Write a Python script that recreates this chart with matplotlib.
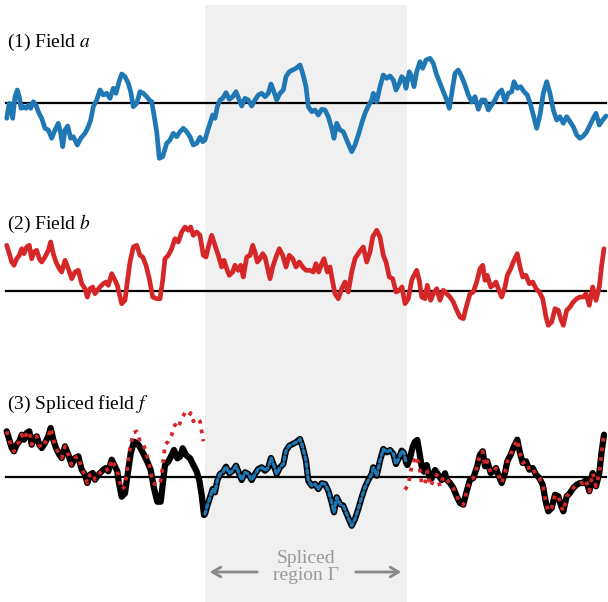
import numpy as np
import matplotlib
matplotlib.use("Agg")
import matplotlib.pyplot as plt
from matplotlib.patches import Rectangle

plt.rcParams["font.family"] = ["Liberation Serif", "DejaVu Serif"]
plt.rcParams["mathtext.fontset"] = "stix"

# field a (sample position, value)
a_x = np.array([
    6.7, 9.3, 11, 12.7, 15, 17.3, 19.3, 21, 23.3, 26, 28.3, 30.7, 33.3, 36, 38.3,
    41.7, 45, 48.3, 51.7, 55, 58.3, 60.7, 62.7, 65, 67.7, 70.7, 73.3, 77.3, 80.7,
    85, 88.3, 90.7, 93.3, 96.7, 100, 103.3, 106.7, 110, 113.3, 116, 119, 121.7,
    125, 128.3, 130.7, 133.3, 136.7, 140, 143.3, 146.7, 149.3, 151.7, 154.3,
    156.7, 159.3, 162.7, 166.7, 170, 173.3, 176.7, 180, 183.3, 186.7, 190, 193.3,
    196.7, 200, 202.7, 205, 207.3, 210, 212.7, 215, 217.3, 220, 222.7, 226,
    229.3, 232.7, 236, 239.3, 241.7, 245, 248.3, 251.7, 255, 258.3, 261.7, 265,
    268.3, 271, 273.3, 276.7, 280, 283.3, 286, 289.3, 292.7, 296, 300, 302.7,
    306, 308.3, 311.7, 315, 318.3, 321.7, 325, 328.3, 331.7, 334, 336.7, 340,
    343.3, 346.7, 351.7, 355, 358.3, 361.7, 365, 368.3, 371.7, 373.3, 376.7, 380,
    383.3, 386.7, 390, 393.3, 396, 399.3, 401.7, 404, 406, 409.3, 411.7, 414,
    416.7, 420, 422.7, 426, 430, 433.3, 436.7, 440, 443.3, 446.7, 449.3, 451.7,
    455, 458.3, 461.7, 465, 468.3, 471.7, 475, 478.3, 481.7, 485, 488.3, 491.7,
    495, 498.3, 501.7, 505, 508.3, 511.7, 514, 517.3, 520.7, 524, 527.3, 530.7,
    533.3, 536.7, 540, 543.3, 546.7, 550, 553.3, 556.7, 560, 563.3, 566.7, 570,
    573.3, 576.7, 580, 583.3, 586.7, 590, 593.3, 596, 599.3, 602.7, 606,
])
a_y = np.array([
    -15.3, -0.3, -3.7, -15.3, 6.3, 13, 6.3, -5.3, -3.7, -5.3, -2, -5.3, 1.3, -2,
    -8.7, -15.3, -25.3, -27, -35.3, -27, -20.3, -30.3, -43.7, -27, -23, -35.3,
    -33.7, -42, -35.3, -30.3, -23.7, -17, -3.7, 3, 13, 8, 9.7, 4.7, 14.7, 9.7,
    21.3, 29, 26.3, 19.7, 11.3, -3.7, -0.3, 11.3, 9.7, 6.3, 3, 1.3, -13.7, -28.7,
    -55.3, -53.7, -40.3, -37, -30.3, -33.7, -28.7, -25.3, -28.7, -33.7, -42,
    -40.3, -34.3, -38.7, -37, -28.7, -20.3, -12, -15.3, -3.7, 3, 4.7, 10.3, 3.7,
    6.3, 11.3, 3, -3, 4.7, 3, -3, 3, 8, 9.7, 6.3, 9.7, 19, 13, 3, 9.7, 13, 26.3,
    31.3, 33, 34.7, 38, 29.7, 16.3, -3.7, -8.7, -7, -12, -6.3, -7, -13.7, -25.3,
    -35.3, -20.3, -27, -28.7, -37, -48.7, -42, -32, -20.3, -10.3, -3, 3, 9.7,
    1.3, 16.3, 28, 24.7, 27, 23, 13, 19.7, 26.3, 24, 14.7, 31.3, 26.3, 16.3,
    31.3, 41.3, 34.7, 43, 44.7, 39.7, 28, 19.7, 11.3, 3, -5.3, 9.7, 29.7, 33,
    26.3, 18, 8, 1, 6.3, -6.3, 3, 3, -7, -2, 3, 9.7, 13, 1.3, 9.7, 11.3, 21.3,
    14.7, 16.3, 11.3, 8, -2, -12, -25.3, -12, 9.7, 21.3, 9.7, -7, -17, -13.7,
    -20.3, -13.7, -18.7, -23.7, -32, -35.3, -33, -28.7, -22, -15.3, -10.3, -22,
    -17, -13,
])

# field b
b_x = np.array([
    6.7, 9.3, 11.7, 14, 16.7, 19.3, 21.7, 24, 26.7, 29.3, 31.7, 34, 36.7, 39.3,
    41.7, 45, 48.3, 50.7, 53.3, 56, 59.3, 61.7, 65, 68.3, 71.7, 75, 78.3, 81.7,
    85, 87.3, 90, 92.7, 95, 97.3, 100, 103.3, 106, 108.3, 111.7, 115, 117.3,
    119.3, 121.7, 125, 127.3, 130, 133.3, 136.7, 140, 142.7, 146, 149.3, 152.7,
    156.7, 160, 162.7, 165, 168.3, 171.7, 175, 178.3, 181.7, 185, 188.3, 190.7,
    193.3, 196.7, 200, 203.3, 206, 208.3, 211.7, 215, 218.3, 221.7, 224, 226.7,
    229.3, 232.7, 235, 238.3, 240.7, 243.3, 246.7, 250, 252.7, 255, 257.3, 260,
    262.7, 265, 267.7, 270, 272.7, 276, 279.3, 282.7, 286, 289.3, 292.7, 296,
    299.3, 302.7, 306, 310, 313.3, 316, 318.7, 321.7, 324, 327.3, 330, 332.7,
    335, 338.3, 341.7, 345, 348.3, 351.7, 355, 359.3, 363.3, 366.7, 370, 372.7,
    376.7, 380, 383.3, 386, 389.3, 392.7, 396, 399.3, 402, 405, 408.3, 411.7,
    414, 416.7, 419.3, 421.7, 425, 427.3, 430.7, 433.3, 436.7, 440, 443.3,
    446.7, 450, 453.3, 456.7, 460, 463.3, 466.7, 470, 473.3, 476.7, 480, 482.7,
    485, 487.3, 490.7, 493.3, 496, 498.3, 501.7, 505, 507.3, 510.7, 513.3, 517.3,
    520, 522.7, 526, 529.3, 532.7, 536, 539.3, 542.7, 546, 548.3, 551.7, 555,
    558.3, 560.7, 563.3, 566.7, 570, 573.3, 576.7, 580, 583.3, 586, 589.3, 592.7,
    596, 599.3, 601.7, 604,
])
b_y = np.array([
    45.7, 37.3, 29, 25.7, 32.3, 35.7, 42.3, 37.3, 44, 45.7, 32.3, 39, 40.7, 32.3,
    29, 34, 40.7, 49, 37.3, 29, 22.3, 19, 30.7, 22.3, 12.3, 19, 20.7, 7.3, 2.3,
    -6, 2.3, 4, -2.7, 0.7, 4, 7.3, 9, 5.7, 17.3, 10.7, 5.7, -2.7, -12.7, -9.3, 9,
    29, 44, 45.7, 35.7, 34, 25.7, 12.3, -6, -7.7, -7.7, 10.7, 32.3, 35.7, 42.3,
    52.3, 49, 59, 64, 60.7, 64, 55.7, 59, 55.7, 35.7, 34, 44, 55.7, 45.7, 35.7,
    24, 30.7, 22.3, 15.7, 19, 25.7, 20.7, 25.7, 14, 34, 35.7, 45.7, 39, 29, 32.3,
    37.3, 34, 22.3, 12.3, 24, 34, 42.3, 35.7, 24, 35.7, 32.3, 24, 29, 24, 20.7,
    20.7, 19, 27.3, 19, 27.3, 32.3, 19, 24, 9, -2.7, -7.7, 2.3, 9, -1, 19, 32.3,
    39, 44, 29, 39, 54, 60.7, 54, 35.7, 29, 14, 12.3, -1, 0.7, 4, -12.7, -7.7,
    10.7, 15.7, 20.7, 10.7, -6, -7.7, 5.7, -9.3, -2.7, 2.3, -9.3, 0.7, -2.7, -6,
    -11, -19.3, -26, -27.7, -14.3, -2.7, -1, 9, 22.3, 25.7, 10.7, 15.7, 4, 5.7,
    9, 2.3, -6, 4, 15.7, 22.3, 29, 37.3, 24, 14, 15.7, 7.3, 9, 2.3, -1, -7.7,
    -26, -34.3, -31, -17.7, -19.3, -27.7, -34.3, -19.3, -16, -11, -7.7, -6, -6,
    -2.7, -14.3, 4, -9.3, 4, 25.7, 42.3,
])

# spliced field f where it follows neither a nor b
f_left_x = np.array([
    118.7, 121.7, 125, 127.3, 130.7, 134, 137.3, 140.7, 144, 147.3, 150.7, 154,
    157.3, 160.7, 162.7, 165, 168.3, 171.7, 174, 177.3, 180, 182.7, 186, 190,
    193.3, 196.7, 199.3, 201.7, 204,
])
f_left_y = np.array([
    -4.7, -19.7, -16.3, 0.3, 23.7, 35.3, 33.7, 28.7, 22, 15.3, 7, -11.3, -24.7,
    -24.7, -8, 12, 15.3, 22, 27, 18.7, 20.3, 28.7, 22, 18.7, 12, 5.3, -3.3, -18,
    -38,
])
f_right_x = np.array([
    407.3, 410, 412.7, 415, 417.3, 419.3, 421.7, 424, 426.7, 429.3, 431.7, 435,
    438.3, 441.7, 445,
])
f_right_y = np.array([
    12, 18.7, 30.3, 35.3, 37, 25.3, 10.3, 5.3, 12, 0.3, -1.3, 7, 2, -3, 3.7,
])

# splice region Gamma
gamma_lo, gamma_hi = 205, 407

BLUE = "#1f77b4"
RED = "#d62728"

fig = plt.figure(figsize=(6.08, 6.02), dpi=100)
ax = fig.add_axes([0, 0, 1, 1])
ax.set_xlim(0, 608)
ax.set_ylim(602, 0)
ax.axis("off")

ax.add_patch(Rectangle((gamma_lo, 5), gamma_hi - gamma_lo, 600,
                       facecolor="#f0f0f0", edgecolor="none", zorder=0))

base1, base2, base3 = 103, 291, 477
for base in (base1, base2, base3):
    ax.plot([6, 606], [base, base], color="black", lw=1.6, zorder=2)

# (1) field a
ax.plot(a_x, base1 - a_y, color=BLUE, lw=3.4, solid_joinstyle="round",
        solid_capstyle="round", zorder=3)
ax.text(7, 42, "(1) Field $a$", fontsize=14, va="center", ha="left")

# (2) field b
ax.plot(b_x, base2 - b_y, color=RED, lw=3.4, solid_joinstyle="round",
        solid_capstyle="round", zorder=3)
ax.text(7, 224, "(2) Field $b$", fontsize=14, va="center", ha="left")

# (3) spliced field f
in_a = (a_x >= gamma_lo) & (a_x <= 406)
f_x = np.concatenate([b_x[b_x < 118], f_left_x, a_x[in_a], f_right_x, b_x[b_x > 446]])
f_y = np.concatenate([b_y[b_x < 118], f_left_y, a_y[in_a], f_right_y, b_y[b_x > 446]])
ax.plot(f_x, base3 - f_y, color="black", lw=4.5, solid_joinstyle="round",
        solid_capstyle="round", zorder=3)

left = b_x <= 205
right = b_x >= 404
for m in (left, right):
    ax.plot(b_x[m], base3 - b_y[m], color=RED, lw=2.7, ls=(0, (1, 1.6)),
            dash_capstyle="butt", zorder=4)
ax.plot(a_x[in_a], base3 - a_y[in_a], color=BLUE, lw=2.4, ls=(0, (1, 1)),
        dash_capstyle="round", zorder=4)
ax.text(7, 404, "(3) Spliced field $f$", fontsize=14, va="center", ha="left")

# annotation for the splice region
mid = (gamma_lo + gamma_hi) / 2
ax.text(mid, 567, "Spliced\nregion Γ", fontsize=14, color="#999999",
        ha="center", va="center", linespacing=0.95)
arrow = dict(arrowstyle="->,head_length=0.6,head_width=0.35", color="#888888", lw=2)
ax.annotate("", xy=(gamma_lo + 2, 572), xytext=(260, 572), arrowprops=arrow)
ax.annotate("", xy=(gamma_hi - 3, 572), xytext=(353, 572), arrowprops=arrow)

fig.savefig("out.png", dpi=100)
